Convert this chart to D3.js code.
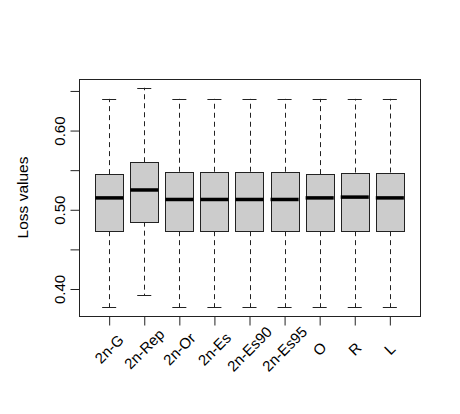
<!DOCTYPE html>
<html>
<head>
<meta charset="UTF-8">
<title>Loss values boxplot</title>
<script src="https://d3js.org/d3.v7.min.js"></script>
<style>
  body { margin: 0; background: #fff; }
  svg text { font-family: "Liberation Sans", Arial, Helvetica, sans-serif; fill: #000; }
</style>
</head>
<body>
<svg width="460" height="414"></svg>
<script>
// box statistics
const methods = ["2n-G", "2n-Rep", "2n-Or", "2n-Es", "2n-Es90", "2n-Es95", "O", "R", "L"];
const whiskerLow = [0.377, 0.392, 0.377, 0.377, 0.377, 0.377, 0.377, 0.377, 0.377];
const lowerQuartile = [0.473, 0.485, 0.473, 0.473, 0.473, 0.473, 0.473, 0.473, 0.473];
const medians = [0.515, 0.525, 0.513, 0.513, 0.513, 0.513, 0.515, 0.516, 0.515];
const upperQuartile = [0.545, 0.560, 0.548, 0.548, 0.548, 0.548, 0.545, 0.547, 0.547];
const whiskerHigh = [0.640, 0.654, 0.640, 0.640, 0.640, 0.640, 0.640, 0.640, 0.640];
const yTicks = [0.40, 0.45, 0.50, 0.55, 0.60, 0.65];
const yTickLabels = ["0.40", "", "0.50", "", "0.60", ""];

const svg = d3.select("svg");
const plotLeft = 79, plotRight = 420, plotTop = 79, plotBottom = 316;

// R style range: data range stretched by 4% on each side
const lo = d3.min(whiskerLow), hi = d3.max(whiskerHigh);
const pad = (hi - lo) * 0.04;
const y = d3.scaleLinear().domain([lo - pad, hi + pad]).range([plotBottom, plotTop]);
const x = d3.scaleLinear().domain([0.5 - 0.36, methods.length + 0.5 + 0.36]).range([plotLeft, plotRight]);

const boxW = x(0.8) - x(0);
const capW = boxW / 2;

const data = methods.map((m, i) => ({
  name: m, pos: i + 1,
  lo: whiskerLow[i], q1: lowerQuartile[i], med: medians[i], q3: upperQuartile[i], hi: whiskerHigh[i]
}));

const g = svg.append("g");

// whiskers
const box = g.selectAll(".box").data(data).enter().append("g").attr("class", "box");

box.append("line")
  .attr("x1", d => Math.round(x(d.pos)) + 0.5).attr("x2", d => Math.round(x(d.pos)) + 0.5)
  .attr("y1", d => y(d.q3)).attr("y2", d => y(d.hi))
  .attr("stroke", "#222").attr("stroke-dasharray", "5,4");
box.append("line")
  .attr("x1", d => Math.round(x(d.pos)) + 0.5).attr("x2", d => Math.round(x(d.pos)) + 0.5)
  .attr("y1", d => y(d.q1)).attr("y2", d => y(d.lo))
  .attr("stroke", "#222").attr("stroke-dasharray", "5,4");

// caps
[d => d.hi, d => d.lo].forEach(f => {
  box.append("line")
    .attr("x1", d => x(d.pos) - capW / 2).attr("x2", d => x(d.pos) + capW / 2)
    .attr("y1", d => Math.round(y(f(d))) + 0.5).attr("y2", d => Math.round(y(f(d))) + 0.5)
    .attr("stroke", "#222");
});

// boxes
box.append("rect")
  .attr("x", d => Math.round(x(d.pos) - boxW / 2) + 0.5)
  .attr("y", d => Math.round(y(d.q3)) + 0.5)
  .attr("width", Math.round(boxW))
  .attr("height", d => Math.round(y(d.q1)) - Math.round(y(d.q3)))
  .attr("fill", "#cccccc")
  .attr("stroke", "#222");

// medians
box.append("line")
  .attr("x1", d => x(d.pos) - boxW / 2).attr("x2", d => x(d.pos) + boxW / 2)
  .attr("y1", d => y(d.med)).attr("y2", d => y(d.med))
  .attr("stroke", "#000").attr("stroke-width", 3.5);

// frame
svg.append("rect")
  .attr("x", plotLeft + 0.5).attr("y", plotTop + 0.5)
  .attr("width", plotRight - plotLeft).attr("height", plotBottom - plotTop)
  .attr("fill", "none").attr("stroke", "#222");

// y axis
const yAxis = svg.append("g")
  .attr("transform", `translate(${plotLeft + 0.5},0)`)
  .call(d3.axisLeft(y).tickValues(yTicks).tickSize(9).tickFormat(""));
yAxis.select(".domain").remove();
yAxis.selectAll(".tick line").attr("stroke", "#222");
yAxis.selectAll(".tick").append("text")
  .attr("transform", "translate(-15,0) rotate(-90)")
  .attr("text-anchor", "middle")
  .style("font-size", "15px")
  .text((d, i) => yTickLabels[i]);

// x axis
const xAxis = svg.append("g")
  .attr("transform", `translate(0,${plotBottom + 0.5})`)
  .call(d3.axisBottom(x).tickValues(data.map(d => d.pos)).tickSize(9).tickFormat(""));
xAxis.select(".domain").remove();
xAxis.selectAll(".tick line").attr("stroke", "#222");

svg.selectAll(".xlab").data(data).enter().append("text")
  .attr("class", "xlab")
  .attr("transform", d => `translate(${x(d.pos)},349) rotate(-45)`)
  .attr("text-anchor", "middle")
  .attr("dy", "0.35em")
  .style("font-size", "15px")
  .text(d => d.name);

// axis title
svg.append("text")
  .attr("transform", `translate(28,${(plotTop + plotBottom) / 2}) rotate(-90)`)
  .attr("text-anchor", "middle")
  .style("font-size", "15.5px")
  .text("Loss values");
</script>
</body>
</html>
